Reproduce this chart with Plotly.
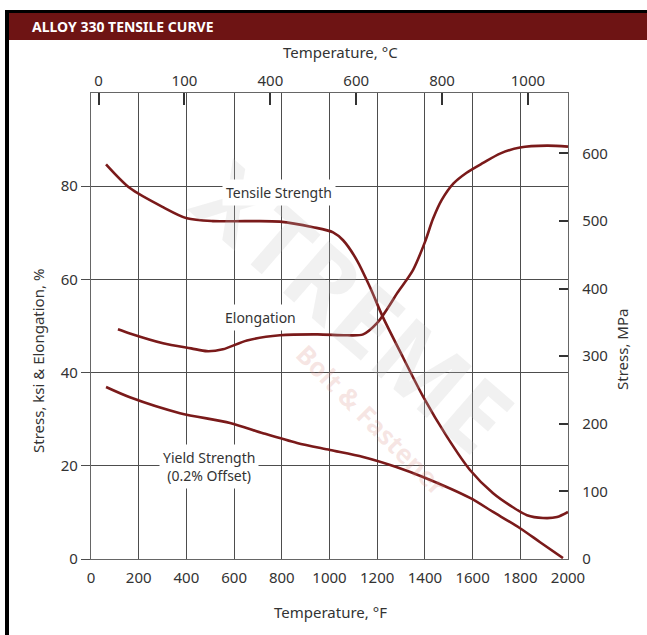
import plotly.graph_objects as go

# ---- data (Temperature in °F, stress in ksi / elongation in %) ----
tensile_f = [63, 163, 302, 402, 511, 650, 792, 931, 1015, 1057, 1115, 1170, 1224, 1308, 1392, 1493, 1589, 1686, 1769, 1828, 1895, 1954, 2000]
tensile_ksi = [84.7, 79.6, 75.5, 73.1, 72.5, 72.5, 72.4, 71.2, 70.1, 68.4, 64.1, 58.3, 51.9, 43.3, 34.9, 26.2, 19.1, 14.1, 11.1, 9.4, 8.8, 9.0, 10.1]

elong_f = [113, 163, 302, 420, 486, 553, 654, 792, 950, 1073, 1141, 1199, 1250, 1283, 1350, 1400, 1434, 1470, 1520, 1575, 1644, 1715, 1799, 1912, 2000]
elong_pct = [49.3, 48.4, 46.3, 45.2, 44.6, 45.0, 46.9, 48.0, 48.2, 48.0, 48.2, 50.6, 54.3, 57.0, 62.0, 68.0, 73.0, 77.0, 80.6, 82.9, 85.0, 87.0, 88.3, 88.7, 88.5]

yield_f = [63, 163, 373, 583, 721, 864, 1002, 1141, 1283, 1392, 1589, 1686, 1799, 1883, 1979]
yield_ksi = [36.9, 34.7, 31.3, 29.2, 27.0, 24.9, 23.4, 21.9, 19.7, 17.6, 13.1, 10.1, 6.6, 3.6, 0.2]

f_ticks = list(range(0, 2001, 200))
ksi_ticks = [0, 20, 40, 60, 80]
mpa_ticks = [0, 100, 200, 300, 400, 500, 600]
c_tick_values = [0, 200, 400, 600, 800, 1000]
c_tick_text = ["0", "100", "400", "600", "800", "1000"]

KSI_TO_MPA = 6.895
LINE = "#7a1a1a"
GRID = "#4d4d4d"
TXT = "#333333"
FONT = "Noto Sans"

W, H = 647, 635
L, R, T, B = 91, 568, 93, 559


def px(x):
    return (x - L) / (R - L)


def py(y):
    return (B - y) / (B - T)


fig = go.Figure()
for xs, ys in [(tensile_f, tensile_ksi), (elong_f, elong_pct), (yield_f, yield_ksi)]:
    fig.add_trace(go.Scatter(x=xs, y=ys, mode="lines",
                             line=dict(color=LINE, width=2.6, shape="spline", smoothing=0.8),
                             showlegend=False, hoverinfo="skip"))

# invisible trace to activate secondary axes
fig.add_trace(go.Scatter(x=[0], y=[0], xaxis="x2", yaxis="y2", mode="markers",
                         marker=dict(opacity=0), showlegend=False, hoverinfo="skip"))

fig.update_layout(
    width=W, height=H,
    margin=dict(l=L, r=W - R, t=T, b=H - B),
    paper_bgcolor="white", plot_bgcolor="white",
    font=dict(family=FONT, size=15, color=TXT),
    xaxis=dict(range=[0, 2000], tickvals=f_ticks, showgrid=True, gridcolor=GRID, gridwidth=1,
               showline=True, linecolor="#666666", linewidth=1.2, mirror=False,
               ticks="outside", ticklen=5, tickcolor="rgba(0,0,0,0)", zeroline=False,
               tickfont=dict(size=15, color=TXT)),
    yaxis=dict(range=[0, 100], tickvals=ksi_ticks, showgrid=True, gridcolor=GRID, gridwidth=1,
               showline=True, linecolor="#666666", linewidth=1.2,
               ticks="outside", ticklen=9, tickcolor=GRID, zeroline=False,
               tickfont=dict(size=15, color=TXT)),
    xaxis2=dict(overlaying="x", side="top", range=[0, 2000],
                tickvals=[c * 9 / 5 + 32 for c in c_tick_values], ticktext=c_tick_text,
                showgrid=False, showline=True, linecolor="#666666", linewidth=1.2,
                ticks="inside", ticklen=12, tickwidth=2, tickcolor="#333333", zeroline=False,
                tickfont=dict(size=15, color=TXT)),
    yaxis2=dict(overlaying="y", side="right", range=[0, 100 * KSI_TO_MPA], tickvals=mpa_ticks,
                showgrid=False, showline=True, linecolor="#666666", linewidth=1.2,
                ticks="inside", ticklen=9, tickwidth=2, tickcolor="#333333", zeroline=False,
                ticklabelstandoff=10,
                tickfont=dict(size=15, color=TXT)),
)

shapes = [
    dict(type="rect", xref="paper", yref="paper", x0=px(8), x1=px(W), y0=py(40), y1=py(13),
         fillcolor="#6e1414", line=dict(width=0), layer="above"),
    dict(type="rect", xref="paper", yref="paper", x0=px(5), x1=px(W), y0=py(13), y1=py(10),
         fillcolor="black", line=dict(width=0), layer="above"),
    dict(type="rect", xref="paper", yref="paper", x0=px(5), x1=px(9), y0=py(H), y1=py(10),
         fillcolor="black", line=dict(width=0), layer="above"),
]
fig.update_layout(shapes=shapes)


def note(text, x, y, **kw):
    d = dict(x=px(x), y=py(y), xref="paper", yref="paper", text=text, showarrow=False,
             xanchor="center", yanchor="middle")
    d.update(kw)
    return d


ann = [
    note("<b>XTREME</b>", 355, 305, textangle=41,
         font=dict(size=96, color="rgba(190,190,190,0.22)", family=FONT)),
    note("<b>Bolt & Fastener</b>", 372, 420, textangle=45,
         font=dict(size=26, color="rgba(215,140,130,0.22)", family=FONT)),
    note("<b>ALLOY 330 TENSILE CURVE</b>", 30, 26, xanchor="left",
         font=dict(size=14, color="white", family=FONT)),
    note("Temperature, °C", 340, 52, font=dict(size=15, color=TXT)),
    note("Temperature, °F", 330, 612, font=dict(size=15, color=TXT)),
    note("Stress, ksi & Elongation, %", 38, 361, textangle=-90, font=dict(size=15, color=TXT)),
    note("Stress, MPa", 622, 350, textangle=-90, font=dict(size=15, color=TXT)),
]
for text, x, y in [("Tensile Strength", 279, 192), ("Elongation", 260, 317),
                   ("Yield Strength<br>(0.2% Offset)", 209, 466)]:
    ann.append(note(text, x, y, bgcolor="white", font=dict(size=14, color=TXT), borderpad=3))
fig.update_layout(annotations=ann)

fig.write_html("out.html", config={"displayModeBar": False, "staticPlot": True})

# remove default page margin so the figure sits at the window origin
with open("out.html", "r", encoding="utf-8") as fh:
    html = fh.read()
html = html.replace("<body>", '<body style="margin:0;padding:0;overflow:hidden">', 1)
with open("out.html", "w", encoding="utf-8") as fh:
    fh.write(html)
